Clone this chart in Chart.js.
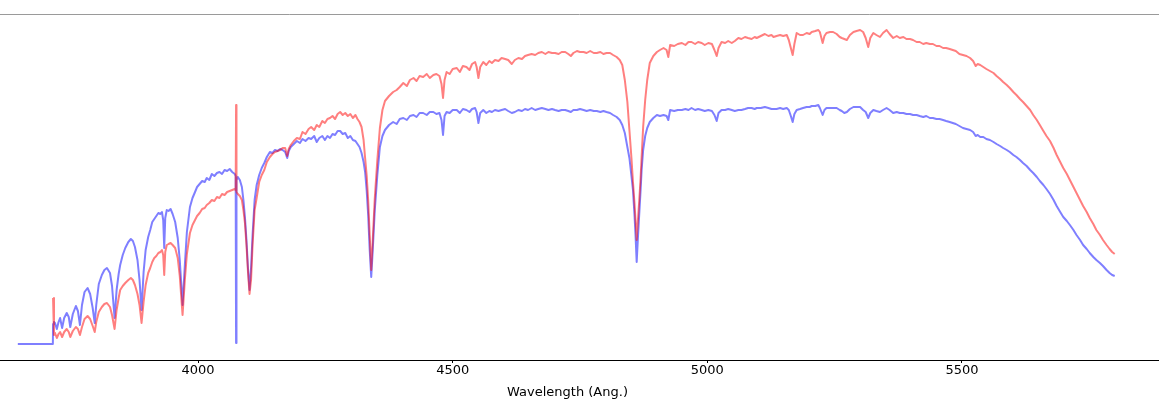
<!DOCTYPE html>
<html>
<head>
<meta charset="utf-8">
<title>Spectra</title>
<script src="https://cdn.jsdelivr.net/npm/chart.js@4.4.1/dist/chart.umd.min.js"></script>
<style>
    html, body { margin: 0; padding: 0; background: #fff; }
    #wrap { width: 1159px; height: 403px; }
</style>
</head>
<body>
<div id="wrap"><canvas id="spec" width="1159" height="403"></canvas></div>
<script>
'use strict';

// ── Data (wavelength in Angstrom, flux in arbitrary units) ──────────────────

var wavelength = [
    3646, 3680, 3714.8, 3715.2, 3717, 3719, 3722.6, 3726, 3729, 3733, 3737, 3742, 3746, 3749, 3754, 3760, 3764, 3768, 3772, 3777, 3783, 3788, 3793, 3797,
    3800, 3805, 3811, 3816, 3821, 3827, 3831, 3836,
    3840, 3844, 3847, 3852, 3857, 3863, 3868, 3872, 3876, 3881, 3885, 3889,
    3893, 3897, 3902, 3906, 3910, 3914, 3918, 3922, 3926, 3929, 3931.5, 3933.5, 3935.5, 3938.5, 3942, 3946, 3950, 3955, 3960, 3964, 3969.5,
    3974, 3978, 3984, 3989, 3994, 3998, 4003, 4008, 4013, 4017, 4022, 4027, 4032, 4037, 4042, 4047, 4052, 4057, 4062, 4067, 4072,
    4073.8, 4074.6, 4075.4, 4078, 4082, 4086, 4089, 4092, 4095, 4098, 4101, 4104, 4107, 4111, 4115, 4120, 4125, 4130, 4135, 4141, 4146, 4151, 4156, 4161, 4166, 4171, 4175, 4178, 4182,
    4188, 4194, 4200, 4205, 4211, 4217, 4222, 4228, 4233, 4238, 4244, 4249, 4254, 4259, 4264, 4269, 4274, 4279, 4284, 4289,
    4294, 4299, 4304, 4309, 4313, 4317, 4321, 4325, 4328, 4331, 4334, 4337, 4340, 4343, 4347, 4352, 4357, 4362, 4367, 4375,
    4383, 4390, 4396, 4403, 4410, 4416, 4423, 4429, 4435, 4442, 4449, 4455, 4462, 4468, 4474, 4478,
    4481, 4484, 4488, 4494, 4500, 4508, 4514, 4520, 4527, 4533, 4538, 4544, 4547, 4550.5, 4554, 4560,
    4566, 4572, 4577, 4583, 4590, 4596, 4603, 4609, 4616, 4622, 4629, 4636, 4642, 4648, 4655, 4662, 4668, 4675, 4682, 4688, 4695,
    4701, 4708, 4714, 4721, 4727, 4732, 4737, 4744, 4750, 4757, 4763, 4770, 4777, 4783, 4790, 4796, 4802, 4809, 4815, 4822, 4828,
    4833, 4838, 4843, 4847, 4851, 4854, 4857, 4859, 4861.3, 4863.5, 4866, 4869, 4871, 4874, 4878, 4882, 4887, 4894, 4901, 4907, 4914, 4920, 4923.4, 4927,
    4935, 4942, 4950, 4957, 4963, 4969, 4976, 4982, 4989, 4995,
    5002, 5009, 5014, 5018.4, 5022, 5028, 5035, 5041, 5048, 5054,
    5061, 5067, 5074, 5080, 5087, 5093, 5097, 5105, 5113, 5120,
    5126, 5130, 5136, 5143, 5149, 5156, 5160, 5164, 5167.6, 5171,
    5175.5, 5182, 5188, 5195, 5201, 5205, 5212, 5218, 5221, 5226.5,
    5230, 5234, 5241, 5247, 5254, 5260, 5264, 5269, 5274, 5280,
    5287, 5293, 5300,
    5306, 5311, 5316, 5320, 5326, 5332, 5339, 5345, 5352, 5358,
    5365, 5372, 5378, 5385, 5391, 5398, 5404, 5411, 5417, 5424,
    5430, 5437, 5443, 5450, 5456, 5463, 5469, 5476, 5482, 5488,
    5495, 5502, 5509, 5516, 5522, 5527, 5531, 5536, 5542, 5548,
    5555, 5562, 5568, 5575, 5581, 5588, 5594, 5601, 5607, 5614,
    5620, 5627, 5634, 5640, 5647, 5653, 5660, 5666, 5673, 5680,
    5686, 5693, 5699, 5706, 5712, 5719, 5725, 5732, 5738, 5745,
    5751, 5758, 5764, 5771, 5777, 5784, 5790, 5795, 5800
];

var fluxBlue = [
    0.16, 0.16, 0.16, 0.36, 0.38, 0.37, 0.31, 0.38, 0.42, 0.32, 0.42, 0.47, 0.43, 0.33, 0.46, 0.54, 0.49, 0.35, 0.55, 0.68, 0.72, 0.66, 0.52, 0.37,
    0.55, 0.76, 0.85, 0.90, 0.92, 0.87, 0.74, 0.42,
    0.70, 0.86, 0.95, 1.05, 1.12, 1.18, 1.21, 1.19, 1.13, 1.00, 0.80, 0.50,
    0.88, 1.10, 1.23, 1.30, 1.38, 1.41, 1.44, 1.47, 1.46, 1.48, 1.40, 1.12, 1.42, 1.50, 1.49, 1.51, 1.46, 1.38, 1.22, 1.00, 0.55,
    0.95, 1.28, 1.53, 1.62, 1.68, 1.73, 1.76, 1.79, 1.78, 1.82, 1.80, 1.86, 1.84, 1.87, 1.88, 1.86, 1.90, 1.89, 1.91, 1.88, 1.86,
    1.84, 0.17, 1.80, 1.83, 1.80, 1.73, 1.60, 1.43, 1.20, 0.92, 0.70, 0.92, 1.25, 1.60, 1.75, 1.85, 1.92, 1.97, 2.03, 2.08, 2.07, 2.10, 2.09, 2.11, 2.10, 2.08, 2.02, 2.09, 2.13,
    2.16, 2.19, 2.17, 2.21, 2.19, 2.22, 2.21, 2.24, 2.18, 2.22, 2.24, 2.20, 2.24, 2.22, 2.26, 2.25, 2.29, 2.29, 2.26, 2.27,
    2.22, 2.24, 2.20, 2.19, 2.16, 2.13, 2.07, 1.98, 1.88, 1.70, 1.45, 1.10, 0.83, 1.10, 1.50, 1.85, 2.13, 2.24, 2.30, 2.35,
    2.38, 2.36, 2.41, 2.42, 2.40, 2.44, 2.45, 2.43, 2.47, 2.47, 2.45, 2.48, 2.48, 2.46, 2.47, 2.40,
    2.25, 2.44, 2.48, 2.47, 2.50, 2.50, 2.47, 2.51, 2.50, 2.48, 2.51, 2.52, 2.48, 2.37, 2.47, 2.50,
    2.47, 2.49, 2.48, 2.50, 2.49, 2.50, 2.51, 2.49, 2.47, 2.48, 2.50, 2.49, 2.51, 2.50, 2.52, 2.50, 2.51, 2.52, 2.51, 2.50, 2.51,
    2.50, 2.49, 2.50, 2.50, 2.49, 2.48, 2.50, 2.50, 2.51, 2.50, 2.49, 2.50, 2.49, 2.49, 2.48, 2.49, 2.48, 2.47, 2.45, 2.43, 2.40,
    2.35, 2.27, 2.13, 2.02, 1.84, 1.70, 1.45, 1.25, 0.98, 1.20, 1.43, 1.70, 1.90, 2.10, 2.24, 2.32, 2.38, 2.42, 2.45, 2.44, 2.45, 2.44, 2.40, 2.50,
    2.49, 2.50, 2.50, 2.51, 2.50, 2.52, 2.50, 2.51, 2.50, 2.49,
    2.50, 2.49, 2.45, 2.39, 2.47, 2.50, 2.50, 2.51, 2.50, 2.49,
    2.50, 2.50, 2.51, 2.52, 2.52, 2.51, 2.52, 2.52, 2.53, 2.52,
    2.51, 2.51, 2.51, 2.52, 2.51, 2.52, 2.50, 2.44, 2.38, 2.46,
    2.50, 2.51, 2.52, 2.53, 2.53, 2.54, 2.54, 2.55, 2.52, 2.45,
    2.50, 2.52, 2.52, 2.52, 2.52, 2.50, 2.49, 2.47, 2.48, 2.51,
    2.53, 2.53, 2.53,
    2.50, 2.48, 2.42, 2.47, 2.50, 2.49, 2.48, 2.50, 2.52, 2.50,
    2.47, 2.48, 2.47, 2.47, 2.46, 2.46, 2.45, 2.45, 2.44, 2.43,
    2.44, 2.42, 2.42, 2.41, 2.41, 2.40, 2.39, 2.38, 2.37, 2.36,
    2.34, 2.32, 2.31, 2.30, 2.28, 2.24, 2.25, 2.23, 2.23, 2.21,
    2.20, 2.18, 2.16, 2.14, 2.12, 2.10, 2.08, 2.05, 2.03, 2.00,
    1.97, 1.94, 1.90, 1.87, 1.83, 1.79, 1.75, 1.71, 1.66, 1.60,
    1.54, 1.48, 1.43, 1.39, 1.35, 1.30, 1.25, 1.20, 1.15, 1.11,
    1.07, 1.03, 1.00, 0.97, 0.94, 0.90, 0.87, 0.85, 0.84
];

var fluxRed = [
    null, null, null, 0.62, 0.25, 0.27, 0.22, 0.26, 0.28, 0.23, 0.28, 0.31, 0.28, 0.23, 0.29, 0.33, 0.31, 0.25, 0.33, 0.41, 0.44, 0.41, 0.34, 0.28,
    0.38, 0.48, 0.53, 0.56, 0.57, 0.53, 0.45, 0.31,
    0.50, 0.62, 0.70, 0.74, 0.77, 0.80, 0.82, 0.80, 0.75, 0.66, 0.55, 0.37,
    0.58, 0.75, 0.87, 0.92, 0.98, 1.02, 1.04, 1.07, 1.08, 1.10, 1.05, 0.85, 1.08, 1.15, 1.16, 1.17, 1.15, 1.12, 1.02, 0.84, 0.45,
    0.80, 1.06, 1.27, 1.35, 1.40, 1.44, 1.47, 1.51, 1.52, 1.55, 1.57, 1.60, 1.59, 1.63, 1.62, 1.66, 1.65, 1.68, 1.69, 1.70, 1.71,
    1.70, 2.55, 1.68, 1.66, 1.64, 1.60, 1.50, 1.37, 1.15, 0.88, 0.66, 0.80, 1.15, 1.50, 1.62, 1.78, 1.85, 1.90, 1.98, 2.03, 2.06, 2.08, 2.09, 2.10, 2.12, 2.12, 2.04, 2.11, 2.15,
    2.19, 2.22, 2.21, 2.28, 2.26, 2.31, 2.33, 2.30, 2.35, 2.33, 2.39, 2.37, 2.41, 2.42, 2.44, 2.41, 2.46, 2.48, 2.45, 2.47,
    2.44, 2.46, 2.42, 2.45, 2.41, 2.38, 2.33, 2.20, 2.02, 1.85, 1.60, 1.25, 0.90, 1.20, 1.62, 2.00, 2.32, 2.50, 2.59, 2.64,
    2.68, 2.70, 2.73, 2.77, 2.74, 2.80, 2.82, 2.79, 2.84, 2.83, 2.86, 2.82, 2.85, 2.86, 2.84, 2.76,
    2.62, 2.80, 2.88, 2.86, 2.91, 2.92, 2.88, 2.94, 2.93, 2.90, 2.96, 2.98, 2.93, 2.82, 2.93, 2.98,
    2.95, 2.99, 2.97, 3.00, 2.99, 3.02, 3.01, 3.00, 2.96, 3.00, 3.02, 3.01, 3.04, 3.05, 3.06, 3.05, 3.07, 3.08, 3.06, 3.08, 3.07,
    3.07, 3.06, 3.08, 3.08, 3.06, 3.04, 3.07, 3.09, 3.08, 3.08, 3.07, 3.09, 3.07, 3.07, 3.08, 3.06, 3.07, 3.07, 3.05, 3.03, 3.00,
    2.95, 2.80, 2.58, 2.30, 2.02, 1.78, 1.57, 1.40, 1.20, 1.38, 1.57, 1.82, 2.03, 2.33, 2.60, 2.80, 2.97, 3.04, 3.08, 3.10, 3.12, 3.10, 3.03, 3.15,
    3.14, 3.16, 3.17, 3.15, 3.18, 3.18, 3.16, 3.18, 3.17, 3.15,
    3.17, 3.16, 3.10, 3.04, 3.12, 3.18, 3.17, 3.19, 3.17, 3.19,
    3.22, 3.21, 3.23, 3.22, 3.21, 3.23, 3.22, 3.24, 3.26, 3.24,
    3.25, 3.23, 3.24, 3.25, 3.24, 3.25, 3.20, 3.12, 3.05, 3.16,
    3.27, 3.25, 3.25, 3.27, 3.26, 3.28, 3.29, 3.30, 3.28, 3.17,
    3.24, 3.27, 3.28, 3.28, 3.26, 3.23, 3.22, 3.21, 3.20, 3.25,
    3.28, 3.29, 3.30,
    3.28, 3.22, 3.13, 3.22, 3.27, 3.25, 3.23, 3.27, 3.30, 3.26,
    3.22, 3.24, 3.22, 3.23, 3.21, 3.21, 3.20, 3.18, 3.18, 3.16,
    3.17, 3.16, 3.16, 3.14, 3.14, 3.12, 3.12, 3.11, 3.10, 3.09,
    3.06, 3.05, 3.04, 3.02, 2.99, 2.94, 2.96, 2.95, 2.93, 2.91,
    2.89, 2.87, 2.84, 2.81, 2.78, 2.75, 2.72, 2.68, 2.65, 2.61,
    2.58, 2.54, 2.50, 2.45, 2.40, 2.35, 2.29, 2.24, 2.19, 2.12,
    2.05, 1.98, 1.92, 1.86, 1.80, 1.73, 1.67, 1.60, 1.54, 1.48,
    1.42, 1.36, 1.30, 1.25, 1.20, 1.15, 1.11, 1.08, 1.06
];

var xTicks = [4000, 4500, 5000, 5500];
var xTitle = 'Wavelength (Ang.)';

// ── Helpers ─────────────────────────────────────────────────────────────────

function toPoints(flux) {
    var pts = [];
    wavelength.forEach(function(w, i) {
        if (flux[i] !== null && flux[i] !== undefined) {
            pts.push({ x: w, y: flux[i] });
        }
    });
    return pts;
}

var font = { family: '"DejaVu Sans", sans-serif', size: 13 };

// Grey frame line along the top, plus the axis label. The original axes run
// past the right edge of the picture, so the label sits a bit left of centre.
var frame = {
    id: 'frame',
    afterDraw: function(chart) {
        var a = chart.chartArea;
        var ctx = chart.ctx;
        var xs = chart.scales.x;
        ctx.save();
        ctx.strokeStyle = '#9a9a9a';
        ctx.lineWidth = 1;
        ctx.beginPath();
        ctx.moveTo(0, Math.round(a.top) + 0.5);
        ctx.lineTo(chart.width, Math.round(a.top) + 0.5);
        ctx.stroke();

        ctx.fillStyle = '#000';
        ctx.font = font.size + 'px ' + font.family;
        ctx.textAlign = 'center';
        ctx.textBaseline = 'middle';
        ctx.fillText(xTitle, (a.left + a.right) / 2 - 12, xs.bottom - 10);
        ctx.restore();
    }
};

// ── Chart ───────────────────────────────────────────────────────────────────

new Chart(document.getElementById('spec'), {
    type: 'line',
    data: {
        datasets: [{
            label: 'red',
            data: toPoints(fluxRed),
            borderColor: 'rgba(255, 0, 0, 0.5)',
            borderWidth: 2,
            borderJoinStyle: 'round',
            pointRadius: 0,
            tension: 0,
            fill: false,
            order: 0
        }, {
            label: 'blue',
            data: toPoints(fluxBlue),
            borderColor: 'rgba(0, 0, 255, 0.5)',
            borderWidth: 2,
            borderJoinStyle: 'round',
            pointRadius: 0,
            tension: 0,
            fill: false,
            order: 1
        }]
    },
    options: {
        responsive: false,
        animation: false,
        events: [],
        layout: { padding: { top: 14, left: 0, right: 0, bottom: 0 } },
        plugins: {
            legend: { display: false },
            tooltip: { enabled: false }
        },
        scales: {
            x: {
                type: 'linear',
                position: 'bottom',
                min: 3611,
                max: 5887,
                afterBuildTicks: function(scale) {
                    scale.ticks = xTicks.map(function(v) { return { value: v }; });
                },
                afterFit: function(scale) {
                    scale.height = 43;
                },
                border: { display: true, color: '#000', width: 1 },
                grid: {
                    display: true,
                    drawOnChartArea: false,
                    drawTicks: true,
                    tickLength: 3,
                    color: '#000'
                },
                ticks: {
                    color: '#000',
                    font: font,
                    padding: 0,
                    maxRotation: 0,
                    autoSkip: false,
                    callback: function(v) { return String(v); }
                },
                title: { display: false }
            },
            y: {
                display: false,
                min: 0,
                max: 3.46
            }
        }
    },
    plugins: [frame]
});
</script>
</body>
</html>
